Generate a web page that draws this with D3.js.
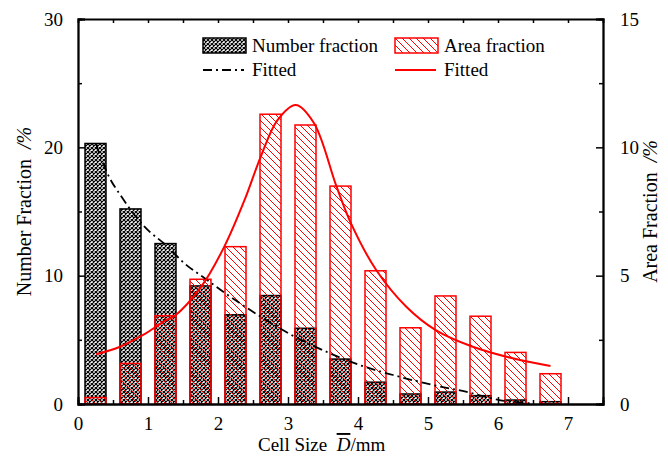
<!DOCTYPE html>
<html>
<head>
<meta charset="utf-8">
<script src="https://cdn.jsdelivr.net/npm/d3@7"></script>
<style>
  body { margin: 0; background: #fff; }
  svg { display: block; }
  svg text { font-family: "Liberation Serif", "Times New Roman", serif; }
</style>
</head>
<body>
<div id="chart"></div>
<script>
// bar centres (mm)
const sizes = [0.25, 0.75, 1.25, 1.75, 2.25, 2.75, 3.25, 3.75, 4.25, 4.75, 5.25, 5.75, 6.25, 6.75];
// left axis, %
const numberFraction = [20.3, 15.2, 12.5, 9.2, 6.95, 8.45, 5.9, 3.5, 1.7, 0.78, 0.93, 0.65, 0.31, 0.18];
// right axis, %
const areaFraction = [0.25, 1.58, 3.44, 4.86, 6.13, 11.29, 10.87, 8.49, 5.19, 2.97, 4.21, 3.42, 2.01, 1.18];

// fitted curves
const numFitX = [0.26, 0.43, 0.62, 0.95, 1.28, 1.52, 1.81, 2.14, 2.61, 3.05, 3.6, 4.02, 4.5, 5.07, 5.54, 6.02, 6.49];
const numFitY = [20.2, 17.85, 16.16, 13.82, 12.26, 10.96, 9.8, 8.5, 6.8, 5.38, 3.95, 3.04, 2.26, 1.48, 0.96, 0.31, 0.05];
const areaFitX = [0.26, 0.6, 0.93, 1.26, 1.38, 1.76, 2.09, 2.38, 2.61, 2.85, 3.11, 3.37, 3.69, 3.9, 4.26, 4.69, 5.11, 5.64, 6.21, 6.75];
const areaFitY = [1.94, 2.23, 2.69, 3.27, 3.43, 4.57, 6.13, 7.95, 9.63, 11.06, 11.65, 10.95, 8.5, 7.04, 5.22, 3.79, 2.88, 2.23, 1.78, 1.48];

const xTicks = [0, 1, 2, 3, 4, 5, 6, 7];
const leftTicks = [0, 10, 20, 30];
const rightTicks = [0, 5, 10, 15];

const width = 668, height = 460;
const pLeft = 78, pRight = 603, pTop = 19, pBottom = 404;

const svg = d3.select("#chart").append("svg")
  .attr("width", width)
  .attr("height", height);

const x = d3.scaleLinear().domain([0, 7.5]).range([pLeft, pRight]);
const yL = d3.scaleLinear().domain([0, 30]).range([pBottom, pTop]);
const yR = d3.scaleLinear().domain([0, 15]).range([pBottom, pTop]);

// hatch patterns
const defs = svg.append("defs");
const cross = defs.append("pattern")
  .attr("id", "cross")
  .attr("patternUnits", "userSpaceOnUse")
  .attr("width", 4).attr("height", 4);
cross.append("rect").attr("width", 4).attr("height", 4).attr("fill", "#fff");
cross.append("path")
  .attr("d", "M0,0L4,4M4,0L0,4")
  .attr("stroke", "#000").attr("stroke-width", 1.2);

const diag = defs.append("pattern")
  .attr("id", "diag")
  .attr("patternUnits", "userSpaceOnUse")
  .attr("width", 7).attr("height", 7);
diag.append("path")
  .attr("d", "M0,0L7,7M-1,6L1,8M6,-1L8,1")
  .attr("stroke", "#ff0000").attr("stroke-width", 1);

const barW = x(0.3) - x(0);

// number fraction bars
svg.selectAll(".nbar")
  .data(sizes)
  .enter()
  .append("rect")
  .attr("class", "nbar")
  .attr("x", (d) => x(d) - barW / 2)
  .attr("width", barW)
  .attr("y", (d, i) => yL(numberFraction[i]))
  .attr("height", (d, i) => pBottom - yL(numberFraction[i]))
  .attr("fill", "url(#cross)")
  .attr("stroke", "#000")
  .attr("stroke-width", 1.5);

// area fraction bars on top, hatch only
svg.selectAll(".abar")
  .data(sizes)
  .enter()
  .append("rect")
  .attr("class", "abar")
  .attr("x", (d) => x(d) - barW / 2)
  .attr("width", barW)
  .attr("y", (d, i) => yR(areaFraction[i]))
  .attr("height", (d, i) => pBottom - yR(areaFraction[i]))
  .attr("fill", "url(#diag)")
  .attr("stroke", "#ff0000")
  .attr("stroke-width", 1.5);

// fitted curves
const numLine = d3.line()
  .x((d) => x(d[0]))
  .y((d) => yL(d[1]))
  .curve(d3.curveMonotoneX);
svg.append("path")
  .attr("d", numLine(numFitX.map((v, i) => [v, numFitY[i]])))
  .attr("fill", "none")
  .attr("stroke", "#000")
  .attr("stroke-width", 1.8)
  .attr("stroke-dasharray", "9,4,2,4");

const areaLine = d3.line()
  .x((d) => x(d[0]))
  .y((d) => yR(d[1]))
  .curve(d3.curveCatmullRom);
svg.append("path")
  .attr("d", areaLine(areaFitX.map((v, i) => [v, areaFitY[i]])))
  .attr("fill", "none")
  .attr("stroke", "#ff0000")
  .attr("stroke-width", 2);

// axes: ticks point inward
const fs = "19px";
const minorX = d3.range(0.5, 7.5, 1);

const xAxis = svg.append("g")
  .attr("transform", `translate(0,${pBottom})`)
  .call(d3.axisBottom(x).tickValues(xTicks).tickSize(-7).tickPadding(13).tickFormat(d3.format("d")));
xAxis.selectAll(".tick line").attr("stroke-width", 1.5);
xAxis.selectAll("text").attr("font-size", fs);
svg.append("g")
  .attr("transform", `translate(0,${pBottom})`)
  .call(d3.axisBottom(x).tickValues(minorX).tickSize(-4).tickFormat(""))
  .selectAll(".tick line").attr("stroke-width", 1.5);

const topAxis = svg.append("g")
  .attr("transform", `translate(0,${pTop})`)
  .call(d3.axisTop(x).tickValues(d3.range(0.5, 7.5, 0.5)).tickSize(-4).tickFormat(""));
topAxis.selectAll(".tick line").attr("stroke-width", 1.5);

const lAxis = svg.append("g")
  .attr("transform", `translate(${pLeft},0)`)
  .call(d3.axisLeft(yL).tickValues(leftTicks).tickSize(-7).tickPadding(15));
lAxis.selectAll(".tick line").attr("stroke-width", 1.5);
lAxis.selectAll("text").attr("font-size", fs);
svg.append("g")
  .attr("transform", `translate(${pLeft},0)`)
  .call(d3.axisLeft(yL).tickValues([5, 15, 25]).tickSize(-4).tickFormat(""))
  .selectAll(".tick line").attr("stroke-width", 1.5);

const rAxis = svg.append("g")
  .attr("transform", `translate(${pRight},0)`)
  .call(d3.axisRight(yR).tickValues(rightTicks).tickSize(-7).tickPadding(17));
rAxis.selectAll(".tick line").attr("stroke-width", 1.5);
rAxis.selectAll("text").attr("font-size", fs);
svg.append("g")
  .attr("transform", `translate(${pRight},0)`)
  .call(d3.axisRight(yR).tickValues([2.5, 7.5, 12.5]).tickSize(-4).tickFormat(""))
  .selectAll(".tick line").attr("stroke-width", 1.5);

svg.selectAll(".domain").attr("stroke-width", 1.8);

// axis titles
const xt = svg.append("text")
  .attr("x", 258).attr("y", 451)
  .attr("font-size", fs);
xt.append("tspan").text("Cell Size\u00a0\u00a0");
xt.append("tspan").attr("font-style", "italic").style("text-decoration", "overline").text("D");
xt.append("tspan").text("/mm");

const lt = svg.append("text")
  .attr("transform", `translate(31,${(pTop + pBottom) / 2}) rotate(-90)`)
  .attr("text-anchor", "middle")
  .attr("font-size", "20px");
lt.append("tspan").text("Number Fraction\u00a0\u00a0");
lt.append("tspan").attr("font-style", "italic").text("/%");

const rt = svg.append("text")
  .attr("transform", `translate(657,${(pTop + pBottom) / 2}) rotate(-90)`)
  .attr("text-anchor", "middle")
  .attr("font-size", "20px");
rt.append("tspan").text("Area Fraction\u00a0\u00a0");
rt.append("tspan").attr("font-style", "italic").text("/%");

// legend
const legend = [
  { label: "Number fraction", kind: "bar", fill: "url(#cross)", color: "#000", lx: 203, ly: 38 },
  { label: "Fitted", kind: "line", dash: "9,4,2,4", color: "#000", lx: 203, ly: 70 },
  { label: "Area fraction", kind: "bar", fill: "url(#diag)", color: "#ff0000", lx: 395, ly: 38 },
  { label: "Fitted", kind: "line", dash: null, color: "#ff0000", lx: 395, ly: 70 },
];
legend.forEach((d) => {
  if (d.kind === "bar") {
    svg.append("rect")
      .attr("x", d.lx).attr("y", d.ly)
      .attr("width", 43).attr("height", 15)
      .attr("fill", d.fill)
      .attr("stroke", d.color).attr("stroke-width", 1.5);
    svg.append("text").attr("x", d.lx + 49).attr("y", d.ly + 14)
      .attr("font-size", fs).text(d.label);
  } else {
    svg.append("line")
      .attr("x1", d.lx).attr("x2", d.lx + 41)
      .attr("y1", d.ly).attr("y2", d.ly)
      .attr("stroke", d.color).attr("stroke-width", 2)
      .attr("stroke-dasharray", d.dash);
    svg.append("text").attr("x", d.lx + 49).attr("y", d.ly + 6)
      .attr("font-size", fs).text(d.label);
  }
});
</script>
</body>
</html>
